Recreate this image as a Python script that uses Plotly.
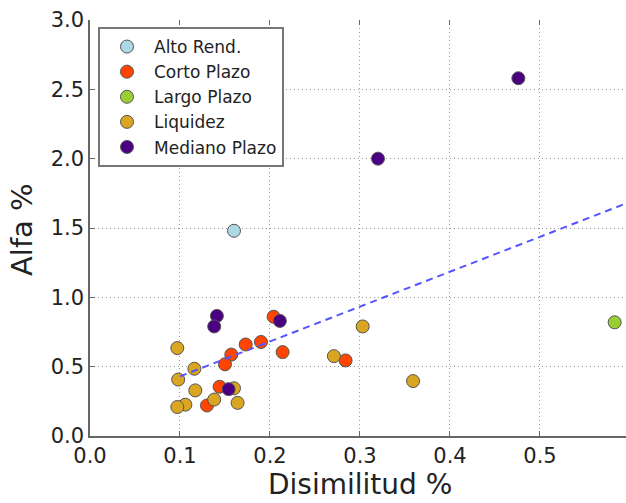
import plotly.graph_objects as go

# Fund categories and their (dissimilarity, alpha) pairs, both in percent
categories = ["Alto Rend.", "Corto Plazo", "Largo Plazo", "Liquidez", "Mediano Plazo"]
colors = ["#add8e6", "#ff4500", "#9acd32", "#daa520", "#4b0082"]

alto_x = [0.160]
alto_y = [1.48]

corto_x = [0.204, 0.173, 0.190, 0.214, 0.157, 0.150, 0.144, 0.130, 0.284]
corto_y = [0.860, 0.660, 0.678, 0.605, 0.587, 0.517, 0.355, 0.220, 0.545]

largo_x = [0.583]
largo_y = [0.82]

liquidez_x = [0.097, 0.116, 0.098, 0.117, 0.160, 0.138, 0.106, 0.097, 0.164, 0.303, 0.271, 0.359]
liquidez_y = [0.634, 0.485, 0.407, 0.329, 0.344, 0.263, 0.226, 0.209, 0.239, 0.790, 0.576, 0.396]

mediano_x = [0.141, 0.138, 0.211, 0.154, 0.320, 0.476]
mediano_y = [0.866, 0.790, 0.830, 0.338, 2.000, 2.580]

# Fitted trend line endpoints
trend_x = [0.100, 0.600]
trend_y = [0.430, 1.688]

series_x = [alto_x, corto_x, largo_x, liquidez_x, mediano_x]
series_y = [alto_y, corto_y, largo_y, liquidez_y, mediano_y]

x_ticks = [0.0, 0.1, 0.2, 0.3, 0.4, 0.5]
x_tick_text = ["0.0", "0.1", "0.2", "0.3", "0.4", "0.5"]
y_ticks = [0.0, 0.5, 1.0, 1.5, 2.0, 2.5, 3.0]
y_tick_text = ["0.0", "0.5", "1.0", "1.5", "2.0", "2.5", "3.0"]

FONT = "DejaVu Sans"
TXT = "#222222"

W, H = 626, 503
ML, MR, MT, MB = 90, 0, 20, 67
PW, PH = W - ML - MR, H - MT - MB


def px_to_paper(px, py):
    return (px - ML) / PW, (H - MB - py) / PH


fig = go.Figure()

for name, col, xs, ys in zip(categories, colors, series_x, series_y):
    fig.add_trace(go.Scatter(
        x=xs, y=ys, mode="markers", name=name,
        marker=dict(size=13, color=col, line=dict(color="#555555", width=1)),
    ))

fig.add_trace(go.Scatter(
    x=trend_x, y=trend_y, mode="lines", showlegend=False,
    line=dict(color="#5555ff", width=2, dash="7px,5px"),
))

# dummy trace on the top axis so its inward ticks are drawn
fig.add_trace(go.Scatter(x=[None], y=[None], xaxis="x2", showlegend=False))

XR = [0.0, 0.5956]
YR = [0.0, 3.0]

grid = dict(showgrid=True, gridcolor="#999999", griddash="1px,3px", gridwidth=1)

lx, ly = px_to_paper(98, 27)
tx, ty = px_to_paper(360, 484)
yx, yy = px_to_paper(22, 230)

fig.update_layout(
    width=W, height=H,
    margin=dict(l=ML, r=MR, t=MT, b=MB),
    paper_bgcolor="white", plot_bgcolor="white",
    font=dict(family=FONT, color=TXT),
    showlegend=True,
    legend=dict(
        x=lx, y=ly, xanchor="left", yanchor="top",
        bgcolor="white", bordercolor="#777777", borderwidth=2,
        font=dict(family=FONT, size=17, color=TXT),
        itemwidth=44, tracegroupgap=0,
    ),
    xaxis=dict(
        range=XR, tickmode="array", tickvals=x_ticks, ticktext=x_tick_text,
        zeroline=False, showline=True, linecolor="#666666", linewidth=1.5,
        ticks="inside", ticklen=5, tickcolor="#666666",
        tickfont=dict(family=FONT, size=21, color=TXT), **grid,
    ),
    xaxis2=dict(
        range=XR, overlaying="x", side="top", tickmode="array", tickvals=x_ticks,
        showticklabels=False, showgrid=False, zeroline=False, showline=False,
        ticks="inside", ticklen=5, tickcolor="#666666",
    ),
    yaxis=dict(
        range=YR, tickmode="array", tickvals=y_ticks, ticktext=y_tick_text,
        zeroline=False, showline=True, linecolor="#666666", linewidth=1.5,
        ticks="inside", ticklen=5, tickcolor="#666666",
        tickfont=dict(family=FONT, size=21, color=TXT), **grid,
    ),
    annotations=[
        dict(text="Disimilitud %", x=tx, y=ty, xref="paper", yref="paper",
             xanchor="center", yanchor="middle",
             showarrow=False, font=dict(family=FONT, size=28, color=TXT)),
        dict(text="Alfa %", x=yx, y=yy, xref="paper", yref="paper",
             xanchor="center", yanchor="middle",
             showarrow=False, textangle=-90, font=dict(family=FONT, size=29, color=TXT)),
    ],
)

fig.write_html("out.html")
